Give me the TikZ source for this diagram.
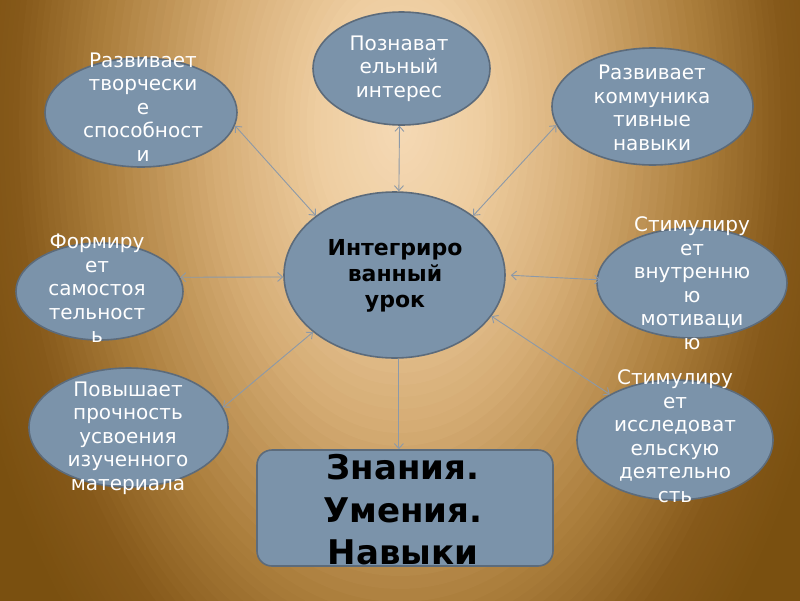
\documentclass[tikz,border=0pt]{standalone}
\usepackage{fontspec}
\setmainfont{DejaVu Sans}
\usetikzlibrary{arrows.meta,shapes.geometric}
\definecolor{bubblefill}{HTML}{7B93AA}
\definecolor{bubbledraw}{HTML}{5C6B7B}
\definecolor{linkcol}{HTML}{8C99A8}
\definecolor{bgA}{HTML}{F5DAB6}
\definecolor{bgB}{HTML}{EECDA0}
\definecolor{bgC}{HTML}{D5AC74}
\definecolor{bgD}{HTML}{AC7F3D}
\definecolor{bgE}{HTML}{86591A}
\definecolor{bgF}{HTML}{7A5010}
\tikzset{
  bubble/.style={ellipse, fill=bubblefill, draw=bubbledraw, line width=1.6pt, inner sep=0pt},
  ptext/.style={text=white, align=center, inner sep=0pt,
    font=\fontsize{20}{23.5}\selectfont},
  ctext/.style={text=black, align=center, inner sep=0pt,
    font=\fontsize{22}{26}\selectfont\bfseries},
  btext/.style={text=black, align=center, inner sep=0pt,
    font=\fontsize{34}{42.5}\selectfont\bfseries},
  link/.style={draw=linkcol, line width=0.9pt,
    {Straight Barb[length=5pt,width=9pt]}-{Straight Barb[length=5pt,width=9pt]}},
  linkone/.style={draw=linkcol, line width=0.9pt,
    -{Straight Barb[length=5pt,width=9pt]}},
}
\begin{document}
\begin{tikzpicture}[x=1pt,y=-1pt]
\useasboundingbox (0,0) rectangle (800,600);
\begin{scope}
  \clip (-5,-5) rectangle (805,605);
  \fill[bgF] (-5,-5) rectangle (805,605);
  \foreach \ca/\cb/\ra/\rb in {bgF/bgE/1.05/0.9, bgE/bgD/0.9/0.7, bgD/bgC/0.7/0.44, bgC/bgB/0.44/0.2, bgB/bgA/0.2/0.0}{
    \foreach \i in {0,...,13}{
      \pgfmathsetmacro\rr{\ra-(\ra-\rb)*\i/14}
      \pgfmathsetmacro\pp{100*\i/14}
      \fill[\cb!\pp!\ca] (400,125) ellipse [x radius=\rr*430, y radius=\rr*700];
    }
  }
\end{scope}

% ellipses
\node[bubble, minimum width=221pt, minimum height=166pt] (c)  at (394.5,275) {};
\node[bubble, minimum width=177pt, minimum height=113pt] (t)  at (401.5,68.5) {};
\node[bubble, minimum width=192pt, minimum height=109pt] (tl) at (141,112.5) {};
\node[bubble, minimum width=201pt, minimum height=117pt] (tr) at (652.5,106.5) {};
\node[bubble, minimum width=167pt, minimum height=97pt]  (l)  at (99.5,291.5) {};
\node[bubble, minimum width=190pt, minimum height=110pt] (r)  at (692,283) {};
\node[bubble, minimum width=199pt, minimum height=119pt] (bl) at (128.5,427.5) {};
\node[bubble, minimum width=196pt, minimum height=120pt] (br) at (675,440) {};
\node[fill=bubblefill, draw=bubbledraw, line width=1.6pt, rounded corners=15pt,
      minimum width=296pt, minimum height=116pt, inner sep=0pt] (box) at (405,508) {};

% texts
\node[ctext] (ct)  at (395,275.5) {Интегриро\\ванный\\урок};
\node[ptext] (tt)  at (399,68.7) {Познават\\ельный\\интерес};
\node[ptext] (tlt) at (143,107) {Развивает\\творчески\\е\\способност\\и};
\node[ptext] (trt) at (652,108) {Развивает\\коммуника\\тивные\\навыки};
\node[ptext] (lt)  at (97,288.7) {Формиру\\ет\\самостоя\\тельност\\ь};
\node[ptext] (rt)  at (692,283) {Стимулиру\\ет\\внутренню\\ю\\мотиваци\\ю};
\node[ptext] (blt) at (128,438) {Повышает\\прочность\\усвоения\\изученного\\материала};
\node[ptext] (brt) at (675,436) {Стимулиру\\ет\\исследоват\\ельскую\\деятельно\\сть};
\node[btext] (bt)  at (403,510) {Знания.\\Умения.\\Навыки};

% connectors
\draw[link] (c.143) -- (tl.-8);
\draw[link] (c.87) -- (t.-92.5);
\draw[link] (c.37) -- (tr.-169);
\draw[link] (c.181) -- (l.10);
\draw[link, shorten <=5pt, shorten >=-4pt] (c.0) -- (r.178);
\draw[link] (c.215) -- (bl.12);
\draw[link] (c.-23) -- (br.145);
\draw[linkone] (c.-87) -- (c.-87 |- box.north);
\end{tikzpicture}
\end{document}
